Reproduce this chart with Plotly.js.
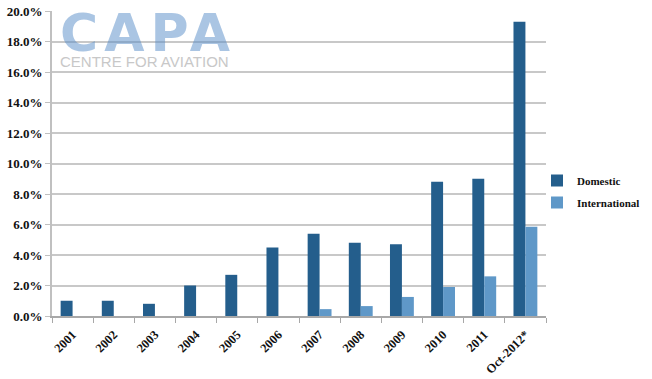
<!DOCTYPE html>
<html>
<head>
<meta charset="utf-8">
<script src="https://cdn.plot.ly/plotly-3.0.1.min.js"></script>
<style>html,body{margin:0;padding:0;background:#fff;}#chart{width:652px;height:379px;}</style>
</head>
<body>
<div id="chart"></div>
<script>
var categories = ["2001","2002","2003","2004","2005","2006","2007","2008","2009","2010","2011","Oct-2012*"];
var domestic = [1.0, 1.0, 0.8, 2.0, 2.7, 4.5, 5.4, 4.8, 4.7, 8.8, 9.0, 19.3];
var international = [0, 0, 0, 0, 0, 0, 0.45, 0.65, 1.25, 1.9, 2.6, 5.85];
var yTicks = [0, 2, 4, 6, 8, 10, 12, 14, 16, 18, 20];

var serif = "Liberation Serif, DejaVu Serif, serif";

var traces = [
  {type: "bar", name: "Domestic", legendgroup: "d", x: categories, y: domestic, marker: {color: "#245e8c"}},
  {type: "bar", name: "International", legendgroup: "i", x: categories, y: international, marker: {color: "#5f98c8"}}
];

var logoText = "<span style='font-family:DejaVu Sans, sans-serif;font-size:52px;font-weight:bold;letter-spacing:6px;fill:rgba(85,140,200,0.5)'>CAPA</span>" +
  "<br><span style='font-family:Liberation Sans, Arial, sans-serif;font-size:15px;font-weight:normal;fill:#c8c8c8'>CENTRE FOR AVIATION</span>";

var layout = {
  width: 652, height: 379,
  margin: {l: 52, r: 106, t: 11, b: 63, autoexpand: false},
  paper_bgcolor: "#fff", plot_bgcolor: "#fff",
  barmode: "group", bargap: 0.42, bargroupgap: 0,
  showlegend: true,
  legend: {xref: "container", yref: "container", x: 537 / 652, y: 1 - 166 / 379, xanchor: "left", yanchor: "top",
           itemwidth: 30, tracegroupgap: 3, bgcolor: "rgba(0,0,0,0)",
           font: {family: serif, size: 11, color: "#111", weight: "bold"}},
  xaxis: {type: "category", tickangle: -45, showgrid: false, showline: true, linecolor: "#a8a8a8", linewidth: 1.5,
          automargin: false, ticks: "outside", tickson: "boundaries", ticklen: 5, tickcolor: "#a8a8a8",
          ticklabelstandoff: 5,
          tickfont: {family: serif, size: 12.5, color: "#111", weight: "bold"}},
  yaxis: {range: [0, 20], tickvals: yTicks, ticktext: yTicks.map(function(v){return v.toFixed(1) + "%";}),
          automargin: false, showgrid: true, gridcolor: "#c8c8c8", gridwidth: 2, zeroline: false,
          showline: true, linecolor: "#c0c0c0", linewidth: 2, ticks: "outside", ticklen: 5, tickcolor: "#c0c0c0",
          tickfont: {family: serif, size: 13, color: "#111", weight: "bold"}},
  annotations: [
    {xref: "paper", yref: "paper", x: 0.012, y: 0.800, xanchor: "left", yanchor: "bottom",
     align: "left", showarrow: false, text: logoText,
     font: {family: "Liberation Sans, Arial, sans-serif", size: 12, color: "#c8c8c8"}}
  ]
};

Plotly.newPlot("chart", traces, layout, {displayModeBar: false, staticPlot: true});
</script>
</body>
</html>
